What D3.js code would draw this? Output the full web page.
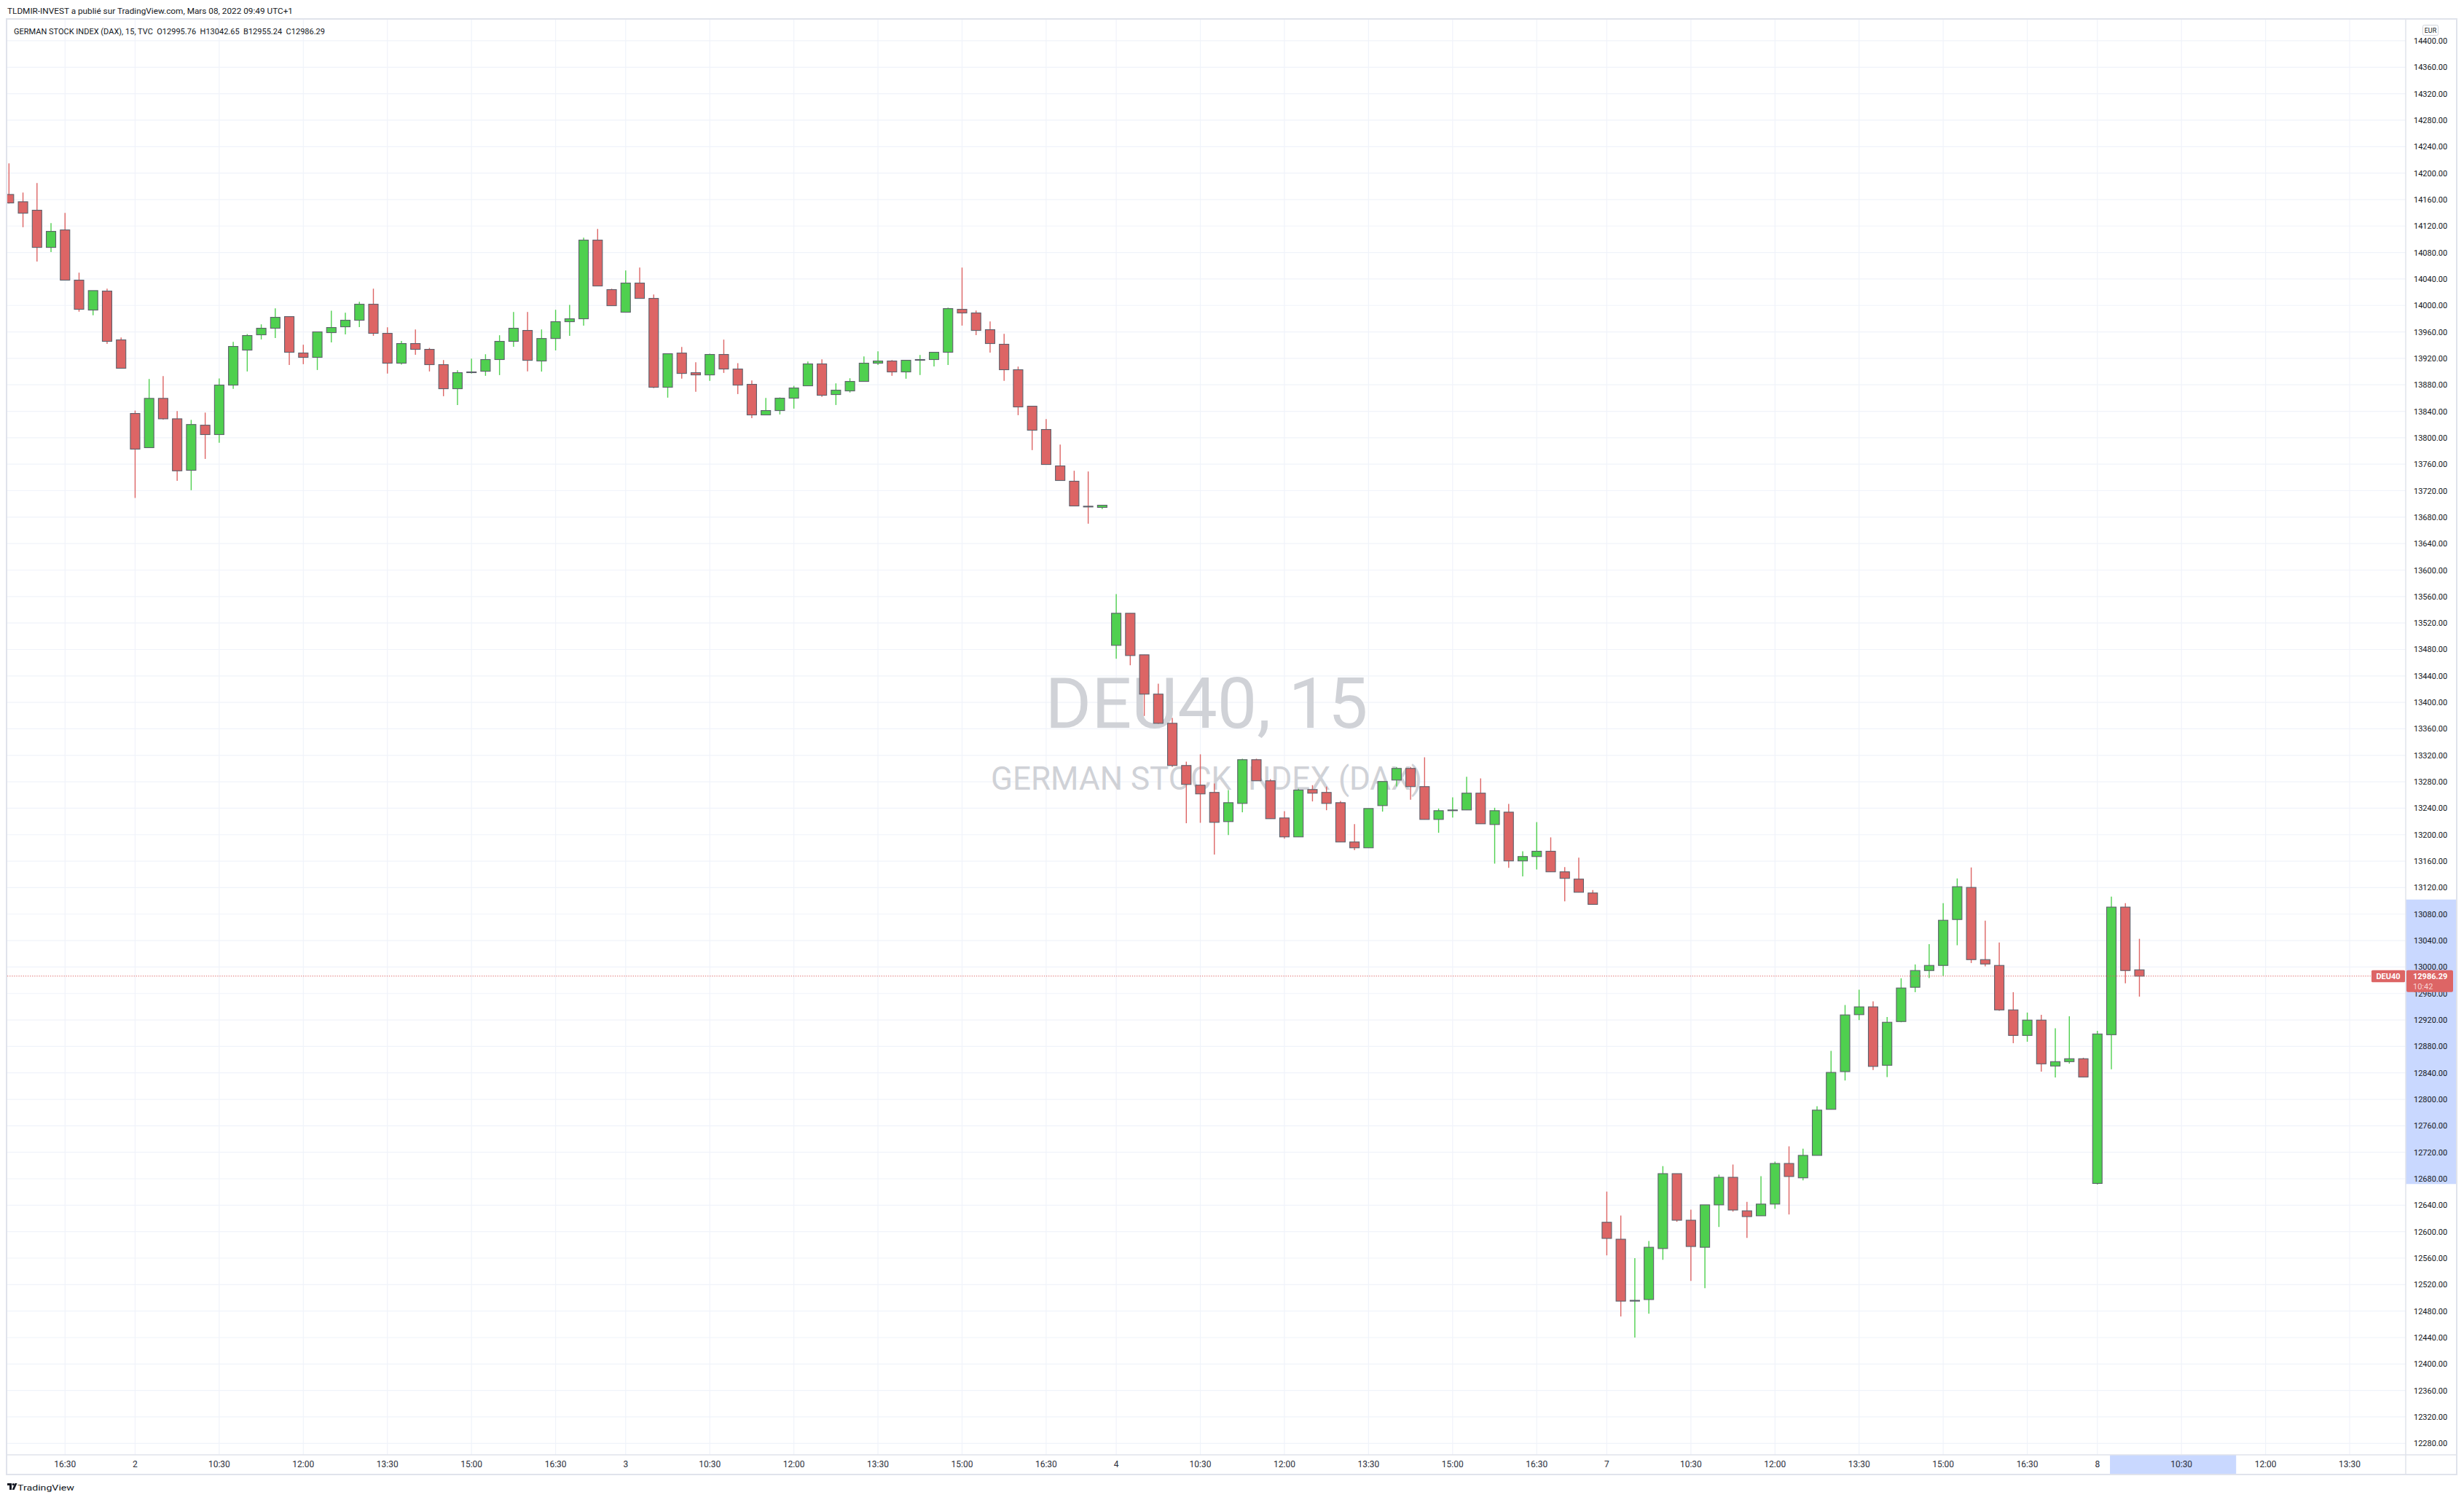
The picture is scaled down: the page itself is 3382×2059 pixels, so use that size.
<!DOCTYPE html>
<html>
<head>
<meta charset="utf-8">
<script src="https://cdn.jsdelivr.net/npm/d3@7/dist/d3.min.js"></script>
<style>
    body { margin: 0; background: #ffffff; }
    svg { display: block; }
</style>
</head>
<body>
<script>
// DAX 15 min bars, Mar 1 15:30 -> Mar 8 09:45 (bar index 0..152)
const opens = [
    14167.7, 14156.7, 14143.9, 14087.7, 14114.1, 14038.2, 13993.0, 14021.7, 13947.9,
    13836.7, 13785.0, 13859.5, 13828.6, 13750.8, 13819.0, 13804.8, 13879.6, 13932.5, 13955.6, 13965.5, 13983.1, 13928.1, 13921.5, 13958.9, 13967.7, 13977.6, 14001.8, 13957.8, 13912.7, 13942.4, 13933.6, 13910.5, 13874.1, 13898.4, 13900.5, 13918.2, 13945.7, 13962.2, 13916.0, 13950.0, 13975.4, 13979.8, 14098.7, 14023.9,
    13989.7, 14033.8, 14010.6, 13876.3, 13928.0, 13898.3, 13895.0, 13925.9, 13903.9, 13880.7, 13834.5, 13841.1, 13859.8, 13878.5, 13911.6, 13865.3, 13870.8, 13885.1, 13912.7, 13916.0, 13899.5, 13917.1, 13918.2, 13929.2, 13994.1, 13988.6, 13963.3, 13941.3, 13902.8, 13847.7, 13812.5, 13757.4, 13734.3, 13696.5, 13694.7,
    13486.2, 13534.7, 13471.9, 13412.5, 13368.4, 13304.6, 13274.9, 13263.9, 13219.8, 13247.3, 13313.4, 13281.5, 13225.3, 13196.7, 13268.3, 13263.9, 13248.4, 13189.0, 13180.2, 13244.0, 13282.6, 13300.2, 13272.7, 13223.1, 13236.3, 13237.4, 13262.8, 13215.4, 13234.1, 13160.4, 13167.0, 13175.0, 13143.9, 13132.9, 13111.9,
    12614.2, 12588.6, 12495.0, 12497.4, 12574.5, 12687.7, 12617.3, 12576.4, 12640.5, 12682.2, 12631.5, 12624.0, 12641.7, 12703.1, 12681.4, 12715.3, 12784.9, 12841.9, 12928.0, 12939.8, 12851.5, 12917.6, 12969.4, 12994.7, 13002.4, 13071.8, 13120.3, 13011.2, 13002.4, 12935.2, 12896.6, 12919.8, 12850.4, 12857.0, 12861.4,
    12672.9, 12897.7, 13090.6, 12995.76
];
const highs = [
    14214.7, 14170.6, 14185.0, 14124.4, 14139.8, 14049.5, 14022.4, 14025.3, 13951.6,
    13841.1, 13888.8, 13893.2, 13840.4, 13827.0, 13838.0, 13889.5, 13945.0, 13956.7, 13971.4, 13995.6, 13983.1, 13940.6, 13960.0, 13992.0, 13989.0, 14005.5, 14025.3, 13967.0, 13946.4, 13963.7, 13935.8, 13917.4, 13902.0, 13919.6, 13926.2, 13954.9, 13990.0, 13990.0, 13963.7, 13993.4, 14000.9, 14102.4, 14115.6, 14025.3,
    14052.8, 14057.2, 14016.5, 13927.0, 13937.3, 13914.1, 13927.0, 13948.3, 13912.7, 13886.6, 13860.2, 13860.9, 13878.5, 13915.2, 13918.5, 13882.2, 13889.9, 13922.9, 13930.6, 13917.4, 13917.1, 13925.1, 13929.2, 13996.7, 14057.2, 13992.3, 13975.8, 13957.1, 13907.5, 13847.7, 13828.3, 13789.7, 13750.1, 13749.0, 13698.0,
    13563.7, 13534.7, 13471.9, 13428.3, 13376.5, 13310.5, 13321.5, 13277.4, 13267.5, 13314.9, 13314.9, 13284.0, 13235.6, 13269.4, 13274.9, 13272.7, 13251.0, 13216.1, 13239.6, 13280.4, 13302.4, 13302.4, 13317.0, 13239.6, 13256.5, 13287.7, 13285.1, 13240.7, 13246.6, 13175.0, 13219.0, 13196.0, 13151.0, 13165.3, 13116.3,
    12660.6, 12624.4, 12559.9, 12585.9, 12699.1, 12687.7, 12633.1, 12640.5, 12686.2, 12701.5, 12645.2, 12683.8, 12705.8, 12729.0, 12725.5, 12789.6, 12873.4, 12942.6, 12965.8, 12948.1, 12924.6, 12983.0, 13003.9, 13034.7, 13096.5, 13133.9, 13150.5, 13070.0, 13037.0, 12962.0, 12931.2, 12927.9, 12907.3, 12925.7, 12862.9,
    12903.6, 13106.4, 13096.5, 13042.65
];
const lows = [
    14154.0, 14118.2, 14066.4, 14080.7, 14038.2, 13990.5, 13985.0, 13942.0, 13905.0,
    13709.0, 13785.0, 13827.5, 13735.0, 13720.7, 13768.0, 13792.3, 13873.8, 13900.2, 13948.6, 13950.8, 13910.0, 13911.2, 13902.4, 13944.2, 13956.3, 13967.3, 13954.0, 13896.9, 13910.5, 13925.5, 13900.2, 13862.8, 13849.5, 13896.9, 13893.6, 13894.7, 13937.6, 13900.2, 13900.0, 13932.0, 13954.0, 13969.5, 14029.4, 13999.6,
    13989.7, 14010.6, 13874.9, 13860.6, 13889.2, 13869.4, 13885.9, 13898.0, 13866.0, 13829.7, 13834.5, 13835.2, 13844.0, 13878.5, 13861.7, 13849.5, 13868.3, 13885.1, 13910.1, 13893.6, 13889.2, 13894.7, 13907.9, 13910.1, 13969.5, 13955.2, 13928.8, 13885.9, 13834.1, 13781.3, 13759.6, 13735.4, 13696.9, 13670.1, 13692.1,
    13466.0, 13456.1, 13379.5, 13367.7, 13302.4, 13217.3, 13218.0, 13169.9, 13199.6, 13233.8, 13281.5, 13224.2, 13194.1, 13196.7, 13250.3, 13237.0, 13189.0, 13176.5, 13180.2, 13234.9, 13273.0, 13252.8, 13223.1, 13202.9, 13226.0, 13237.4, 13216.5, 13156.3, 13150.0, 13136.9, 13147.5, 13143.9, 13099.4, 13113.0, 13094.7,
    12564.2, 12471.8, 12439.9, 12476.1, 12557.5, 12615.0, 12525.7, 12514.7, 12607.1, 12630.3, 12590.6, 12624.0, 12634.6, 12626.0, 12677.5, 12715.3, 12784.9, 12828.5, 12919.8, 12844.5, 12833.5, 12916.5, 12962.0, 12983.3, 12986.3, 13032.9, 13006.1, 13001.0, 12933.7, 12884.9, 12887.1, 12841.9, 12833.1, 12854.0, 12833.8,
    12671.1, 12845.6, 12975.3, 12955.24
];
const closes = [
    14154.9, 14139.4, 14087.7, 14111.9, 14038.2, 13994.1, 14022.4, 13945.7, 13905.0,
    13782.8, 13859.5, 13828.6, 13750.0, 13820.0, 13804.8, 13879.6, 13938.0, 13954.5, 13965.5, 13982.0, 13929.2, 13921.5, 13960.0, 13966.6, 13977.6, 14001.8, 13957.8, 13912.7, 13942.4, 13933.6, 13910.5, 13874.1, 13898.4, 13899.5, 13918.2, 13945.7, 13965.5, 13917.0, 13950.0, 13975.4, 13979.8, 14098.7, 14029.4, 13999.6,
    14033.8, 14010.6, 13876.3, 13927.0, 13897.2, 13895.0, 13925.9, 13903.9, 13879.6, 13834.5, 13841.1, 13859.8, 13875.2, 13911.6, 13864.2, 13871.9, 13885.1, 13912.7, 13916.0, 13899.5, 13917.1, 13918.2, 13929.2, 13995.2, 13988.6, 13962.2, 13942.4, 13902.8, 13846.6, 13811.4, 13759.6, 13735.4, 13696.9, 13696.2, 13698.0,
    13534.7, 13470.8, 13412.5, 13368.4, 13304.6, 13276.0, 13261.7, 13218.7, 13248.4, 13313.4, 13281.5, 13224.2, 13196.7, 13267.5, 13262.8, 13247.3, 13189.0, 13180.2, 13239.6, 13280.4, 13300.2, 13272.7, 13223.1, 13236.3, 13237.4, 13262.8, 13216.5, 13236.3, 13160.4, 13167.0, 13175.0, 13143.9, 13134.0, 13113.0, 13094.7,
    12589.8, 12495.0, 12496.2, 12576.4, 12687.7, 12617.3, 12577.6, 12640.5, 12682.2, 12632.7, 12622.8, 12641.7, 12703.1, 12683.4, 12715.3, 12783.7, 12840.7, 12927.6, 12939.8, 12849.8, 12916.5, 12968.3, 12994.7, 13002.4, 13070.7, 13121.4, 13011.2, 13004.6, 12935.2, 12896.6, 12919.8, 12853.7, 12857.0, 12861.4, 12833.8,
    12898.8, 13090.6, 12994.7, 12986.29
];

// time axis: index of first bar of each session, and labels inside a session
const dayLabels = ["2", "3", "4", "7", "8"];
const dayStarts = [9, 44, 79, 114, 149];
const sessionTimes = ["10:30", "12:00", "13:30", "15:00", "16:30"];
const sessionOffsets = [6, 12, 18, 24, 30];
const firstLabel = { i: 4, text: "16:30" };

// price axis
const priceMin = 12280, priceMax = 14400, priceStep = 40;

const symbol = "DEU40";
const countdown = "10:42";
const highlightPrice = [12672, 13102];
const highlightBars = [149.9, 158.9];

const W = 3382, H = 2059;
const pane = { left: 10, right: 3302, top: 26, bottom: 1997 };
const axisRight = 3372, axisBottom = 2024;
const font = "Roboto, 'Noto Sans', sans-serif";
const upColor = "#4fd04f", downColor = "#dd6565", borderColor = "#5d606b";
const gridColor = "#f0f3fa", frameColor = "#e0e3eb", textColor = "#131722";

const svg = d3.select("body").append("svg")
    .attr("width", W).attr("height", H)
    .style("font-family", font);

svg.append("rect").attr("width", W).attr("height", H).attr("fill", "#ffffff");

const x = d3.scaleLinear().domain([-0.12, 171.0]).range([pane.left, pane.right]);
const y = d3.scaleLinear().domain([12262.7, 14433]).range([pane.bottom, pane.top]);

const bars = d3.range(opens.length).map((i) => ({
    i: i, o: opens[i], h: highs[i], l: lows[i], c: closes[i]
}));
const last = bars[bars.length - 1];

// time ticks
let timeTicks = [firstLabel];
dayStarts.forEach((d, k) => {
    timeTicks.push({ i: d, text: dayLabels[k] });
    sessionOffsets.forEach((o, j) => timeTicks.push({ i: d + o, text: sessionTimes[j] }));
});
timeTicks = timeTicks.filter((t) => x(t.i) < pane.right - 20);

const priceTicks = d3.range(priceMin, priceMax + 1, priceStep);

// grid
const grid = svg.append("g");
grid.selectAll(".hg").data(priceTicks).join("line")
    .attr("x1", pane.left).attr("x2", pane.right)
    .attr("y1", (d) => y(d)).attr("y2", (d) => y(d))
    .attr("stroke", gridColor).attr("stroke-width", 1.2);
grid.selectAll(".vg").data(timeTicks).join("line")
    .attr("x1", (d) => x(d.i)).attr("x2", (d) => x(d.i))
    .attr("y1", pane.top).attr("y2", pane.bottom)
    .attr("stroke", gridColor).attr("stroke-width", 1.2);

// watermark
const wm = svg.append("g").attr("fill", "#d0d2d7").attr("text-anchor", "middle");
const cx = (pane.left + pane.right) / 2;
wm.append("text").attr("x", cx).attr("y", 999)
    .attr("font-size", 97).text(symbol + ", 15");
wm.append("text").attr("x", cx).attr("y", 1084)
    .attr("font-size", 44).text("GERMAN STOCK INDEX (DAX)");

// highlight ranges on the axes
svg.append("rect")
    .attr("x", pane.right).attr("width", axisRight - pane.right)
    .attr("y", y(highlightPrice[1])).attr("height", y(highlightPrice[0]) - y(highlightPrice[1]))
    .attr("fill", "#c9d8ff");
svg.append("rect")
    .attr("x", x(highlightBars[0])).attr("width", x(highlightBars[1]) - x(highlightBars[0]))
    .attr("y", pane.bottom).attr("height", axisBottom - pane.bottom)
    .attr("fill", "#c9d8ff");

// candles
svg.append("clipPath").attr("id", "clip").append("rect")
    .attr("x", pane.left).attr("y", pane.top)
    .attr("width", pane.right - pane.left).attr("height", pane.bottom - pane.top);
const candles = svg.append("g").attr("clip-path", "url(#clip)");
const bodyW = 13;

candles.selectAll(".wick").data(bars).join("line")
    .attr("x1", (d) => x(d.i)).attr("x2", (d) => x(d.i))
    .attr("y1", (d) => y(d.h)).attr("y2", (d) => y(d.l))
    .attr("stroke", (d) => d.c >= d.o ? upColor : downColor)
    .attr("stroke-width", 1.4);

candles.selectAll(".body").data(bars).join("rect")
    .attr("x", (d) => x(d.i) - bodyW / 2)
    .attr("width", bodyW)
    .attr("y", (d) => y(Math.max(d.o, d.c)))
    .attr("height", (d) => Math.max(1, Math.abs(y(d.o) - y(d.c))))
    .attr("fill", (d) => d.c >= d.o ? upColor : downColor)
    .attr("stroke", borderColor)
    .attr("stroke-width", 1.1);

// last price line (dotted)
svg.append("line")
    .attr("x1", pane.left).attr("x2", 3255)
    .attr("y1", y(last.c)).attr("y2", y(last.c))
    .attr("stroke", downColor).attr("stroke-width", 1)
    .attr("stroke-dasharray", "1.3,1.8");

// price axis labels
svg.append("g").selectAll("text").data(priceTicks).join("text")
    .attr("x", 3313).attr("y", (d) => y(d) + 4)
    .attr("font-size", 11).attr("fill", textColor)
    .text((d) => d.toFixed(2));

// currency box
svg.append("rect").attr("x", 3325.5).attr("y", 34.5).attr("width", 21).attr("height", 14)
    .attr("rx", 2).attr("fill", "#ffffff").attr("stroke", "#d1d4dc");
svg.append("text").attr("x", 3336).attr("y", 45).attr("text-anchor", "middle")
    .attr("font-size", 9).attr("fill", textColor).text("EUR");

// time axis labels
svg.append("g").selectAll("text").data(timeTicks).join("text")
    .attr("x", (d) => x(d.i)).attr("y", 2014)
    .attr("text-anchor", "middle")
    .attr("font-size", 12).attr("fill", "#2a2e39")
    .text((d) => d.text);

// frame
svg.append("rect").attr("x", 9).attr("y", pane.top)
    .attr("width", axisRight - 9).attr("height", axisBottom - pane.top)
    .attr("fill", "none").attr("stroke", frameColor).attr("stroke-width", 2);
svg.append("line").attr("x1", pane.right).attr("x2", pane.right)
    .attr("y1", pane.top).attr("y2", axisBottom)
    .attr("stroke", frameColor).attr("stroke-width", 1.5);
svg.append("line").attr("x1", 9).attr("x2", axisRight)
    .attr("y1", pane.bottom).attr("y2", pane.bottom)
    .attr("stroke", frameColor).attr("stroke-width", 1.5);

// symbol + price tags
const tagY = y(last.c) - 8;
svg.append("rect").attr("x", 3255).attr("y", tagY).attr("width", 46).attr("height", 16.5)
    .attr("rx", 1.5).attr("fill", downColor);
svg.append("text").attr("x", 3278).attr("y", tagY + 12).attr("text-anchor", "middle")
    .attr("font-size", 11).attr("font-weight", "bold").attr("fill", "#ffffff").text(symbol);
svg.append("rect").attr("x", 3303).attr("y", tagY).attr("width", 64).attr("height", 30)
    .attr("rx", 2).attr("fill", downColor);
svg.append("text").attr("x", 3312).attr("y", tagY + 12.5)
    .attr("font-size", 11).attr("font-weight", "bold").attr("fill", "#ffffff")
    .text(last.c.toFixed(2));
svg.append("text").attr("x", 3312).attr("y", tagY + 26)
    .attr("font-size", 11).attr("fill", "#f7d3d3").text(countdown);

// header and legend
svg.append("text").attr("x", 10).attr("y", 19)
    .attr("font-size", 11.5).attr("fill", textColor)
    .attr("textLength", 392).attr("lengthAdjust", "spacingAndGlyphs")
    .text("TLDMIR-INVEST a publié sur TradingView.com, Mars 08, 2022 09:49 UTC+1");
svg.append("text").attr("x", 19).attr("y", 47)
    .attr("font-size", 11).attr("fill", textColor)
    .attr("textLength", 427).attr("lengthAdjust", "spacingAndGlyphs")
    .attr("xml:space", "preserve")
    .text(`GERMAN STOCK INDEX (DAX), 15, TVC  O${last.o.toFixed(2)}  H${last.h.toFixed(2)}  B${last.l.toFixed(2)}  C${last.c.toFixed(2)}`);

// TradingView mark at the bottom
const logo = svg.append("g").attr("transform", "translate(10,2036)").attr("fill", "#131722");
logo.append("path").attr("d", "M0 0 H6 V9 H3 V3 H0 Z");
logo.append("circle").attr("cx", 8.2).attr("cy", 1.6).attr("r", 1.6);
logo.append("path").attr("d", "M10.5 0 H13.5 L9.5 9 H6.5 Z");
svg.append("text").attr("x", 24).attr("y", 2045.5)
    .attr("font-size", 11.5).attr("fill", "#131722")
    .attr("textLength", 78).attr("lengthAdjust", "spacingAndGlyphs")
    .text("TradingView");
</script>
</body>
</html>
